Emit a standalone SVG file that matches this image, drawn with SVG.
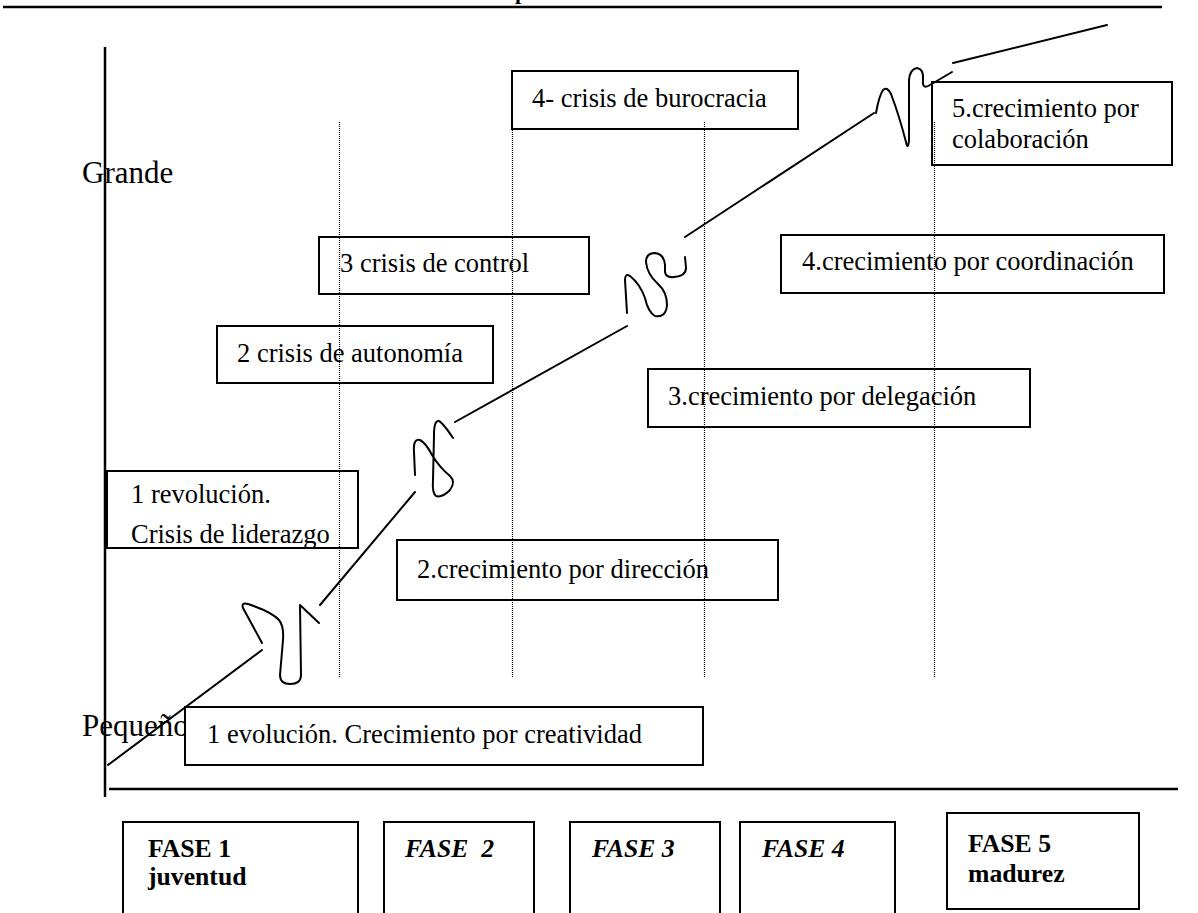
<svg xmlns="http://www.w3.org/2000/svg" width="1198" height="913" viewBox="0 0 1198 913">
  <style>
    .box { fill: #fff; stroke: #000; stroke-width: 2; }
    .t { font-family: "Liberation Serif", "Times New Roman", serif; font-size: 26.5px; fill: #000; }
    .axis-label { font-family: "Liberation Serif", "Times New Roman", serif; font-size: 31px; fill: #000; }
    .phase { font-family: "Liberation Serif", "Times New Roman", serif; font-size: 25.7px; font-weight: bold; fill: #000; }
    .phase-i { font-style: italic; }
    .guide { stroke: #000; stroke-width: 1.2; stroke-dasharray: 1 1; fill: none; }
    .rule { stroke: #000; stroke-width: 2.5; fill: none; }
    .curve { stroke: #000; stroke-width: 2; fill: none; stroke-linecap: round; stroke-linejoin: round; }
  </style>
  <defs>
    <clipPath id="clip-rev">
      <rect x="107" y="471" width="251" height="76"/>
    </clipPath>
  </defs>

  <rect width="1198" height="913" fill="#fff"/>

  <!-- header rule with the descender of the heading above it -->
  <text x="515" y="-1" font-family="Liberation Serif, serif" font-size="22" font-weight="bold">p</text>
  <line class="rule" x1="3" y1="7" x2="1162" y2="7"/>

  <!-- axis labels -->
  <text class="axis-label" x="82" y="183">Grande</text>
  <text class="axis-label" x="82" y="736">Pequeño</text>

  <!-- stage boxes -->
  <g id="evolucion1">
    <rect class="box" x="185" y="707" width="518" height="58"/>
    <text class="t" x="207" y="743">1 evolución. Crecimiento por creatividad</text>
  </g>
  <g id="revolucion1">
    <rect class="box" x="107" y="471" width="251" height="77"/>
    <g clip-path="url(#clip-rev)">
      <text class="t" x="131" y="503">1 revolución.</text>
      <text class="t" x="131" y="543">Crisis de liderazgo</text>
    </g>
  </g>
  <g id="crecimiento2">
    <rect class="box" x="397" y="540" width="381" height="60"/>
    <text class="t" x="417" y="578">2.crecimiento por dirección</text>
  </g>
  <g id="crisis2">
    <rect class="box" x="217" y="326" width="276" height="57"/>
    <text class="t" x="237" y="362">2 crisis de autonomía</text>
  </g>
  <g id="crisis3">
    <rect class="box" x="319" y="237" width="270" height="57"/>
    <text class="t" x="340" y="272">3 crisis de control</text>
  </g>
  <g id="crecimiento3">
    <rect class="box" x="648" y="369" width="382" height="58"/>
    <text class="t" x="668" y="405">3.crecimiento por delegación</text>
  </g>
  <g id="crisis4">
    <rect class="box" x="512" y="71" width="286" height="58"/>
    <text class="t" x="532" y="107">4- crisis de burocracia</text>
  </g>
  <g id="crecimiento4">
    <rect class="box" x="781" y="235" width="383" height="58"/>
    <text class="t" x="802" y="270">4.crecimiento por coordinación</text>
  </g>
  <g id="crecimiento5">
    <rect class="box" x="932" y="82" width="240" height="83"/>
    <text class="t" x="952" y="117">5.crecimiento por</text>
    <text class="t" x="952" y="148">colaboración</text>
  </g>

  <!-- phase boundaries -->
  <g id="guides">
    <line class="guide" x1="339.5" y1="122" x2="339.5" y2="678"/>
    <line class="guide" x1="512.5" y1="122" x2="512.5" y2="678"/>
    <line class="guide" x1="704.5" y1="122" x2="704.5" y2="678"/>
    <line class="guide" x1="934.5" y1="122" x2="934.5" y2="678"/>
  </g>

  <!-- growth line broken by the revolution squiggles -->
  <g id="connectors">
    <line class="curve" x1="108" y1="765" x2="262" y2="650"/>
    <path class="curve" d="M262,643 L243,608 Q241,602 248,604 Q272,612 279,620 Q284,626 283,640 L280,675 Q280,684 290,684 Q301,684 301,675 L300,605 L319,623"/>
    <line class="curve" x1="320" y1="605" x2="415" y2="492"/>
    <path class="curve" d="M415,475 L414,452 Q413,438 420,440 Q426,443 432,455 Q440,468 450,476 Q456,482 450,490 Q442,498 436,496 Q432,493 433,480 L434,435 Q434,420 439,421 Q443,423 453,438"/>
    <line class="curve" x1="455" y1="422" x2="627" y2="326"/>
    <path class="curve" d="M627,313 L625,280 Q625,273 630,276 Q640,284 645,298 Q648,312 655,316 Q666,318 667,305 Q667,292 658,284 Q647,274 646,262 Q646,253 655,253 Q664,254 665,265 L665,272 Q666,278 674,277 Q686,276 686,268 L685,257"/>
    <line class="curve" x1="685" y1="237" x2="874" y2="113"/>
    <path class="curve" d="M876,113 Q879,96 883,90 Q887,86 891,94 Q899,115 906,142 Q908,151 909,140 L909,80 Q910,69 917,68 Q924,69 923,80 Q922,90 930,85 L952,72"/>
    <line class="curve" x1="953" y1="63" x2="1107" y2="25"/>
  </g>

  <!-- axes -->
  <line class="rule" x1="105" y1="47" x2="105" y2="797"/>
  <line class="rule" x1="109" y1="789" x2="1178" y2="789"/>

  <!-- phases -->
  <g id="fase1">
    <rect class="box" x="123" y="822" width="235" height="100"/>
    <text class="phase" x="148" y="857">FASE 1</text>
    <text class="phase" x="148" y="885">juventud</text>
  </g>
  <g id="fase2">
    <rect class="box" x="384" y="822" width="150" height="100"/>
    <text class="phase phase-i" x="405" y="857" xml:space="preserve">FASE  2</text>
  </g>
  <g id="fase3">
    <rect class="box" x="570" y="822" width="150" height="100"/>
    <text class="phase phase-i" x="592" y="857">FASE 3</text>
  </g>
  <g id="fase4">
    <rect class="box" x="740" y="822" width="155" height="100"/>
    <text class="phase phase-i" x="762" y="857">FASE 4</text>
  </g>
  <g id="fase5">
    <rect class="box" x="947" y="813" width="192" height="96"/>
    <text class="phase" x="968" y="852">FASE 5</text>
    <text class="phase" x="968" y="882">madurez</text>
  </g>
</svg>
